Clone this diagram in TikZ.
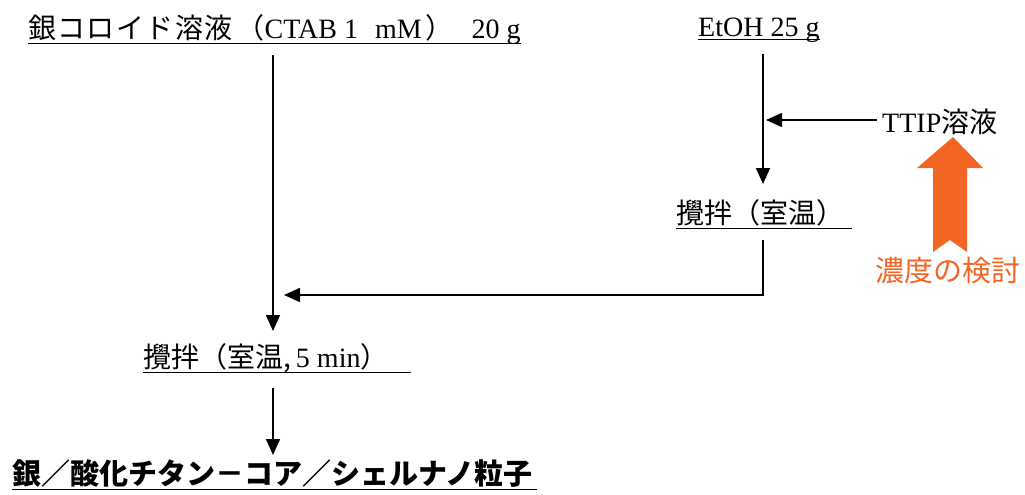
\documentclass[tikz,border=0pt]{standalone}
\usepackage{fontspec}
\setmainfont{Liberation Serif}
\newfontfamily\jp{Noto Sans CJK JP}
\newfontfamily\jpw[LetterSpace=5]{Noto Sans CJK JP}
\usetikzlibrary{arrows.meta}
\definecolor{kor}{HTML}{F26522}
\tikzset{
  lbl/.style={inner sep=0pt, anchor=base west, font=\fontsize{28}{32}\selectfont},
  flow/.style={line width=1.6pt},
  arr/.style={flow, -{Triangle[width=14pt,length=16pt]}},
  ul/.style={line width=1pt}
}
\begin{document}
\begin{tikzpicture}[x=1pt,y=-1pt]
\useasboundingbox (0,0) rectangle (1025,495);
% nodes
\node[lbl] (t1) at (28,39) {{\jpw 銀コロイド溶液}\hspace{4pt}{\jp （}CTAB 1\hspace{10pt} mM\hspace{4pt}{\jp ）}\hspace{18pt}20 g};
\node[lbl] (t2) at (698,37) {EtOH 25 g};
\node[lbl] (t3) at (882,132) {TTIP{\jp 溶液}};
\node[lbl] (t4) at (676,223) {\jp 攪拌（室温）};
\node[lbl, text=kor, font=\fontsize{29}{32}\selectfont] (t5) at (875,281) {\jp 濃度の検討};
\node[lbl] (t6) at (143,367) {{\jp 攪拌（室温,}\hspace{5pt}5 min{\jp ）}};
\node[lbl, font=\fontsize{29}{32}\selectfont] (t7) at (12,484) {\jp\bfseries 銀／酸化チタン－コア／シェルナノ粒子};
% underlines
\draw[ul] ([yshift=-5pt]t1.base west) -- ([yshift=-5pt]t1.base east);
\draw[ul] ([yshift=-3pt]t2.base west) -- ([yshift=-3pt]t2.base east);
\draw[ul] ([yshift=-5pt]t4.base west) -- ([yshift=-5pt,xshift=8pt]t4.base east);
\draw[ul] ([yshift=-5pt]t6.base west) -- ([yshift=-5pt,xshift=22pt]t6.base east);
\draw[ul] ([yshift=-5pt]t7.base west) -- ([yshift=-5pt,xshift=4pt]t7.base east);
% connectors
\coordinate (a1) at (273,55);
\coordinate (a1e) at (273,331);
\draw[arr] (a1) -- (a1e);
\coordinate (b1) at (763,54);
\coordinate (b1e) at (763,184);
\draw[arr] (b1) -- (b1e);
\coordinate (c1) at (877,120);
\coordinate (c1e) at (766,120);
\draw[arr] (c1) -- (c1e);
\coordinate (d1) at (763,240);
\coordinate (d2) at (763,295);
\coordinate (d3) at (284,295);
\draw[arr] (d1) -- (d2) -- (d3);
\coordinate (e1) at (273,388);
\coordinate (e2) at (273,455);
\draw[arr] (e1) -- (e2);
% orange block arrow
\fill[kor] (953,137) -- (983,168) -- (967,168) -- (967,252) -- (950,240) -- (933,252) -- (933,168) -- (917,168) -- cycle;
\end{tikzpicture}
\end{document}
